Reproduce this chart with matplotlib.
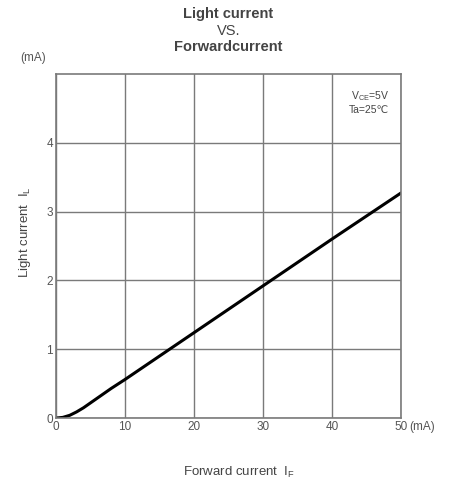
import numpy as np
import matplotlib.pyplot as plt

plt.rcParams['font.family'] = ['Liberation Sans', 'DejaVu Sans']
plt.rcParams['mathtext.fontset'] = 'custom'
plt.rcParams['mathtext.rm'] = 'Liberation Sans'
plt.rcParams['mathtext.it'] = 'Liberation Sans'

# datos
forward_ma = [0, 1, 2, 3, 4, 5, 6, 8, 10, 15, 20, 30, 40, 50]
light_ma = [0, 0.01, 0.04, 0.09, 0.15, 0.22, 0.29, 0.43, 0.56, 0.90, 1.24, 1.92, 2.60, 3.27]
x_ticks = [0, 10, 20, 30, 40, 50]
y_ticks = [0, 1, 2, 3, 4]

gris = '#7a7a7a'
texto = '#444444'

fig = plt.figure(figsize=(4.51, 4.8), dpi=100)
ax = fig.add_axes([0.124, 0.129, 0.765, 0.717])

ax.plot(forward_ma, light_ma, color='black', lw=2.2, solid_capstyle='round')

ax.set_xlim(0, 50)
ax.set_ylim(0, 5)
ax.set_xticks(x_ticks)
ax.set_yticks(y_ticks)
ax.grid(True, color=gris, lw=1)
for s in ax.spines.values():
    s.set_color(gris)
    s.set_linewidth(1.2)
ax.tick_params(length=0, labelsize=8.5, labelcolor='#555555', pad=2)

ax.annotate('(mA)', xy=(50, 0), xycoords='data', xytext=(6, -2),
            textcoords='offset points', ha='left', va='top',
            fontsize=8.5, color='#555555')
fig.text(0.045, 0.872, '(mA)', fontsize=8.5, color='#555555')

fig.text(0.506, 0.962, 'Light current', ha='center', fontsize=10.5, fontweight='bold', color=texto)
fig.text(0.506, 0.928, 'VS.', ha='center', fontsize=10.5, color=texto)
fig.text(0.506, 0.893, 'Forwardcurrent', ha='center', fontsize=10.5, fontweight='bold', color=texto)

ax.set_xlabel('Forward current  I$_F$', fontsize=9.5, color=texto)
ax.xaxis.set_label_coords(0.53, -0.135)
ax.set_ylabel('Light current  I$_L$', fontsize=9.5, color=texto)
ax.yaxis.set_label_coords(-0.065, 0.54)

ax.text(0.965, 0.955, 'V$_{CE}$=5V\nTa=25\u2103', transform=ax.transAxes,
        ha='right', va='top', fontsize=7.5, color=texto, linespacing=1.2)

fig.savefig('out.png', dpi=100)
